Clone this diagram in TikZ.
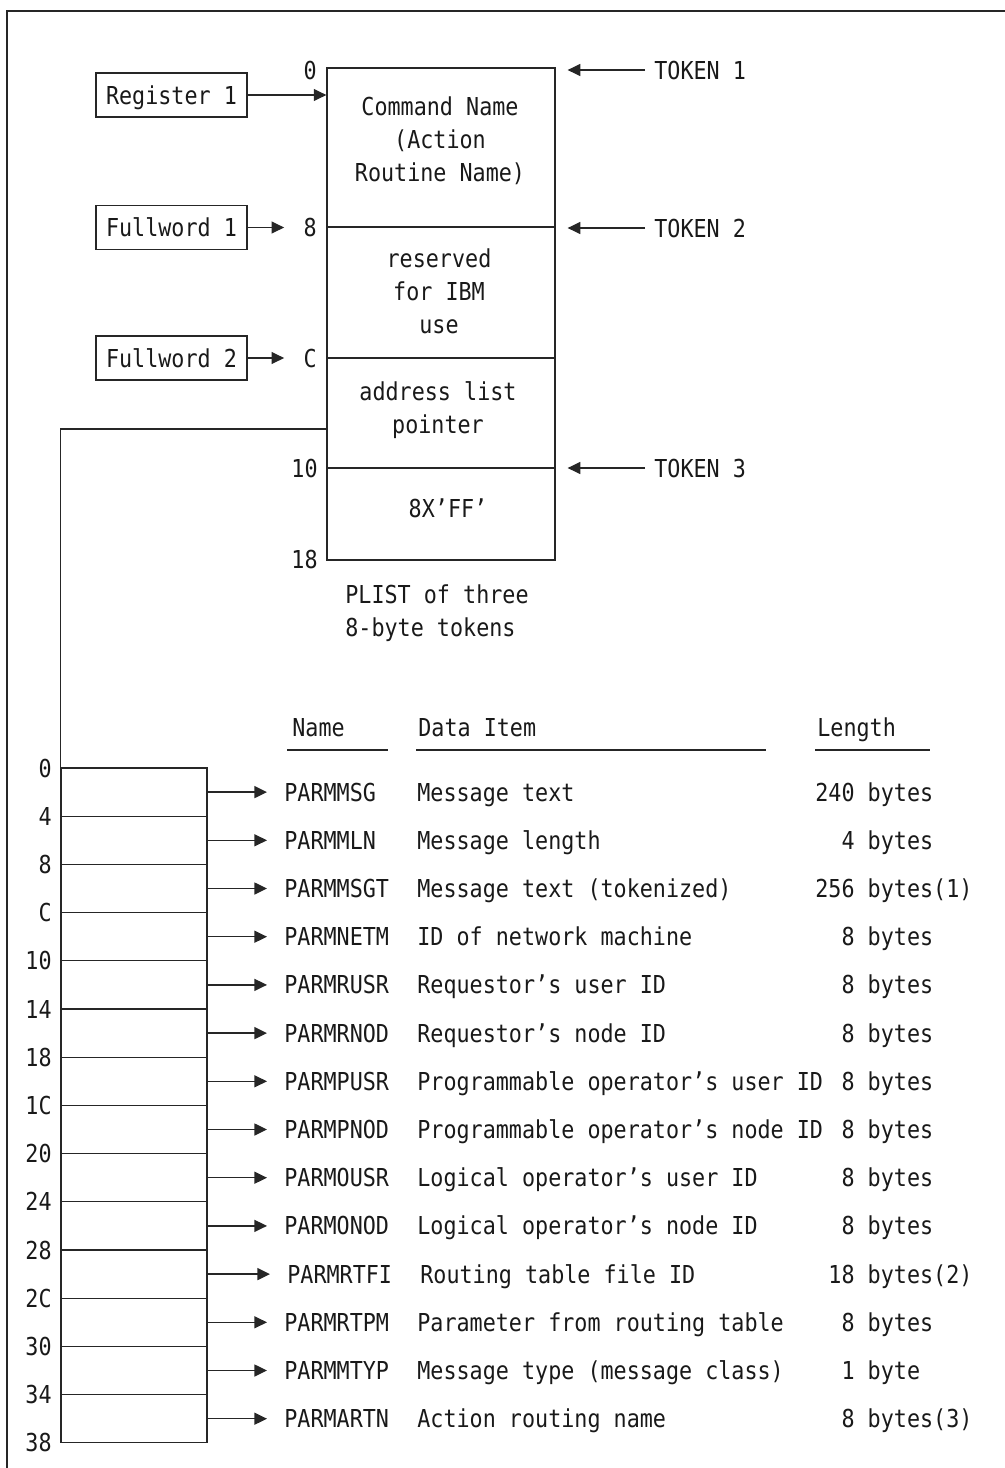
\documentclass[tikz,border=0pt]{standalone}
\usepackage{fontspec}
\setmonofont[FakeStretch=0.88]{DejaVu Sans Mono}
\usetikzlibrary{arrows.meta,calc}
\begin{document}
\begin{tikzpicture}[x=0.5pt,y=-0.5pt,
  every node/.style={font=\ttfamily\fontsize{12.35pt}{16.5pt}\selectfont, inner sep=0pt, text=black!90},
  lbl/.style={text height=10pt, text depth=1pt},
  line/.style={line width=0.65pt, draw=black!85},
  arr/.style={line, -{Triangle[length=6.3pt,width=6pt]}},
  cell/.style={draw=black!85, line width=0.65pt, minimum width=114pt},
  regbox/.style={draw=black!85, line width=0.65pt, minimum width=75.5pt, minimum height=22pt},
  lrow/.style={draw=black!85, line width=0.65pt, minimum width=73pt, minimum height=24.1pt}
]
\useasboundingbox (0,0) rectangle (1005,1468);
% frame
\draw[line, line width=1pt] (1005,11) -- (7,11) -- (7,1468);

% PLIST cells
\node[cell, minimum height=79.5pt] (c1) at (441,147.5) {};
\node[cell, minimum height=65.5pt] (c2) at (441,292.5) {};
\node[cell, minimum height=55pt] (c3) at (441,413) {};
\node[cell, minimum height=46pt] (c4) at (441,514) {};
\node[align=center] (t1) at (440,141) {Command Name\\(Action\\Routine Name)};
\node[align=center] (t2) at (439,291) {reserved\\for IBM\\use};
\node[align=center] (t3) at (438,410) {address list\\pointer};
\node[lbl] (t4) at (448,508) {8X’FF’};
\node[align=left, anchor=west] (cap) at (345,613.5) {PLIST of three\\8-byte tokens};

% offsets of PLIST
\node[lbl, anchor=east] (l0) at (317,70) {0};
\node[lbl, anchor=east] (l8) at (317,227) {8};
\node[lbl, anchor=east] (lC) at (317,358) {C};
\node[lbl, anchor=east] (l10) at (318,468) {10};
\node[lbl, anchor=east] (l18) at (318,559) {18};

% register / fullwords
\node[regbox, lbl] (rb) at (171.5,95) {Register 1};
\node[regbox, lbl] (fw1) at (171.5,227.5) {Fullword 1};
\node[regbox, lbl] (fw2) at (171.5,358) {Fullword 2};
\draw[arr] (rb.east) -- (rb.east -| c1.west);
\draw[arr, shorten >=9.5pt] (fw1.east) -- (fw1.east -| l8.west);
\draw[arr, shorten >=9.5pt] (fw2.east) -- (fw2.east -| lC.west);

% tokens
\node[lbl, anchor=west] (tok1) at (654,70) {TOKEN 1};
\node[lbl, anchor=west] (tok2) at (654,228) {TOKEN 2};
\node[lbl, anchor=west] (tok3) at (654,468) {TOKEN 3};
\foreach \t in {tok1,tok2,tok3}
  \draw[arr, shorten <=4.5pt, shorten >=6pt] (\t.west) -- (\t.west -| c1.east);

% header
\node[lbl, anchor=west] (hName) at (292,727) {Name};
\node[lbl, anchor=west] (hData) at (418,727) {Data Item};
\node[lbl, anchor=west] (hLen) at (817,727) {Length};
\draw[line] (287,750) -- (388,750);
\draw[line] (416,750) -- (766,750);
\draw[line] (815,750) -- (930,750);

% address list rows
\foreach \i in {0,...,13}
  \node[lrow] (r\i) at (134,{768+48.2*(\i+0.5)}) {};
\foreach \lab [count=\k from 0] in {0,4,8,C,10,14,18,1C,20,24,28,2C,30,34,38}
  \node[lbl, anchor=east] (o\k) at (52,{768+48.2*\k}) {\lab};

\foreach \nm/\dt/\ln/\dx [count=\k from 0] in {
  PARMMSG/Message text/240 bytes/0,
  PARMMLN/Message length/\phantom{24}4 bytes/0,
  PARMMSGT/Message text (tokenized)/256 bytes(1)/0,
  PARMNETM/ID of network machine/\phantom{24}8 bytes/0,
  PARMRUSR/Requestor’s user ID/\phantom{24}8 bytes/0,
  PARMRNOD/Requestor’s node ID/\phantom{24}8 bytes/0,
  PARMPUSR/Programmable operator’s user ID/\phantom{24}8 bytes/0,
  PARMPNOD/Programmable operator’s node ID/\phantom{24}8 bytes/0,
  PARMOUSR/Logical operator’s user ID/\phantom{24}8 bytes/0,
  PARMONOD/Logical operator’s node ID/\phantom{24}8 bytes/0,
  PARMRTFI/Routing table file ID/\phantom{2}18 bytes(2)/3,
  PARMRTPM/Parameter from routing table/\phantom{24}8 bytes/0,
  PARMMTYP/Message type (message class)/\phantom{24}1 byte/0,
  PARMARTN/Action routing name/\phantom{24}8 bytes(3)/0}
{
  \node[lbl, anchor=west] (p\k) at ({284+\dx},{768+48.2*(\k+0.5)}) {\nm};
  \node[lbl, anchor=west] (d\k) at ({417+\dx},{768+48.2*(\k+0.5)}) {\dt};
  \node[lbl, anchor=west] (n\k) at (815,{768+48.2*(\k+0.5)}) {\ln};
  \draw[arr, shorten >=8.5pt] (r\k.east) -- (p\k.west);
}

% pointer line from PLIST to address list
\coordinate (ptr) at (c3.west |- 0,429);
\draw[line] (ptr) -| (r0.north west);
\end{tikzpicture}
\end{document}
